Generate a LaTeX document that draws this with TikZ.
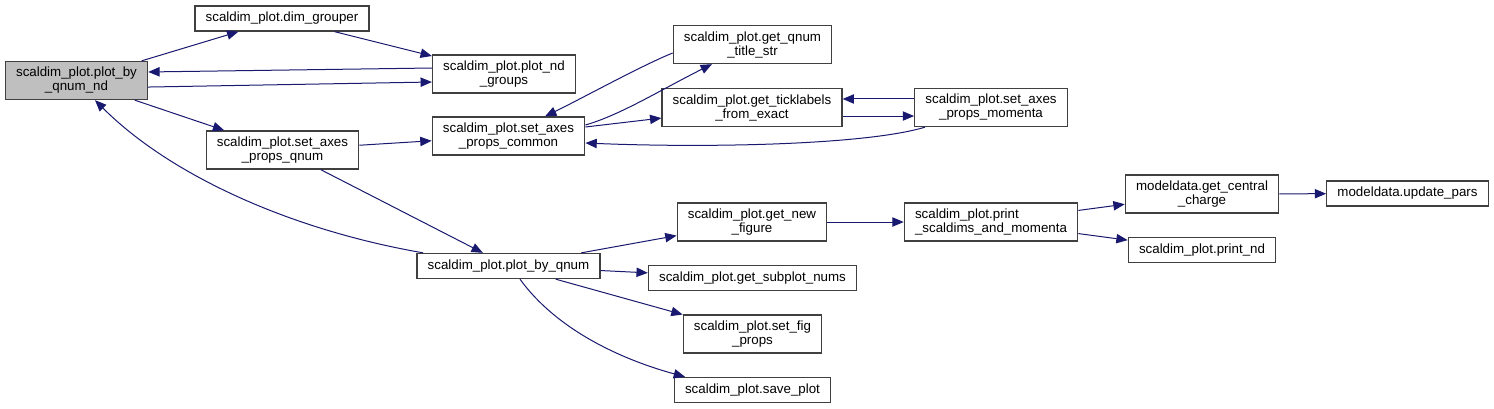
\documentclass[tikz,border=0pt]{standalone}
\usepackage{fontspec}
\setmainfont{Liberation Sans}
\usepackage{tikz}
\usetikzlibrary{arrows.meta,positioning,calc}
\usepackage{xcolor}
\definecolor{EdgeBlue}{HTML}{191970}
\definecolor{BoxLine}{HTML}{404040}
\definecolor{RootGray}{HTML}{BFBFBF}
\tikzset{
  fnbox/.style={draw=BoxLine, line width=1pt, minimum height=18.75pt,
    inner xsep=8pt, inner ysep=2pt, align=center,
    font=\fontsize{10}{10.5}\selectfont, fill=#1},
  fnbox/.default={white},
  fnbox2/.style={fnbox=#1, minimum height=28.5pt},
  fnbox2/.default={white},
  callarr/.style={-{Triangle[length=8.5pt,width=7pt]}, line width=0.75pt, color=EdgeBlue},
}

\begin{document}
\begin{tikzpicture}[x=0.75pt, y=-0.75pt]
  \path[use as bounding box, fill=white] (0,0) rectangle (1494,408);

  % first column
  \node[fnbox2=RootGray] (bynd) at (76.5,80.5) {scaldim\_plot.plot\_by\\\_qnum\_nd};

  % second column
  \node[fnbox] (grouper) at (282,18.5) {scaldim\_plot.dim\_grouper};
  \node[fnbox2] (axqnum) at (282.5,150) {scaldim\_plot.set\_axes\\\_props\_qnum};

  % third column
  \node[fnbox2] (ndgroups) at (504,74) {scaldim\_plot.plot\_nd\\\_groups};
  \node[fnbox2] (common) at (508.5,136) {scaldim\_plot.set\_axes\\\_props\_common};
  \node[fnbox] (byqnum) at (508.5,266) {scaldim\_plot.plot\_by\_qnum};

  % fourth column
  \node[fnbox2] (titlestr) at (752.5,44.5) {scaldim\_plot.get\_qnum\\\_title\_str};
  \node[fnbox2] (ticklab) at (752,107.5) {scaldim\_plot.get\_ticklabels\\\_from\_exact};
  \node[fnbox2] (newfig) at (752,222) {scaldim\_plot.get\_new\\\_figure};
  \node[fnbox] (subplot) at (752.5,278) {scaldim\_plot.get\_subplot\_nums};
  \node[fnbox2] (figprops) at (752.5,334) {scaldim\_plot.set\_fig\\\_props};
  \node[fnbox] (save) at (752.5,390) {scaldim\_plot.save\_plot};

  % fifth column
  \node[fnbox2] (momenta) at (991,107.5) {scaldim\_plot.set\_axes\\\_props\_momenta};
  \node[fnbox2, align=left] (printsd) at (991,222) {scaldim\_plot.print\\\_scaldims\_and\_momenta};

  % sixth and seventh column
  \node[fnbox2] (central) at (1202,194) {modeldata.get\_central\\\_charge};
  \node[fnbox] (printnd) at (1202,250) {scaldim\_plot.print\_nd};
  \node[fnbox] (updpars) at (1407.5,193.5) {modeldata.update\_pars};

  % calls
  \draw[callarr] (bynd) -- (grouper);
  \draw[callarr] (grouper) -- (ndgroups);
  \draw[callarr] ([yshift=4.5pt]ndgroups.west) -- ([yshift=6.4pt]bynd.east);
  \draw[callarr] ([yshift=-4.9pt]bynd.east) -- ([yshift=-6pt]ndgroups.west);
  \draw[callarr] (bynd) -- (axqnum);
  \draw[callarr] ([xshift=-64pt]byqnum.north) .. controls +(-133,-23) and +(75,75) .. ([xshift=13.9pt]bynd.south);
  \draw[callarr] (axqnum) -- (common);
  \draw[callarr] (axqnum) -- (byqnum);
  \draw[callarr] ([yshift=8.25pt]common.east) .. controls +(35,-10) and +(-50,25) .. ([xshift=-30.4pt]titlestr.south);
  \draw[callarr] ([yshift=-6.4pt]titlestr.west) .. controls +(-30,12) and +(35,-17) .. ([xshift=27.4pt]common.north);
  \draw[callarr] (common) -- (ticklab);
  \draw[callarr] ([yshift=-6.4pt]ticklab.east) -- ([yshift=-6.4pt]momenta.west);
  \draw[callarr] ([yshift=6.4pt]momenta.west) -- ([yshift=6.4pt]ticklab.east);
  \draw[callarr] ([xshift=-49.5pt]momenta.south) .. controls +(-60,18) and +(120,5) .. ([yshift=-5.25pt]common.east);
  \draw[callarr] (byqnum) -- (newfig);
  \draw[callarr] (byqnum) -- (subplot);
  \draw[callarr] (byqnum) -- (figprops);
  \draw[callarr] ([xshift=8.6pt]byqnum.south) .. controls +(40,55) and +(-55,-15) .. ([xshift=-50.6pt]save.north);
  \draw[callarr] (newfig) -- (printsd);
  \draw[callarr] (printsd) -- (central);
  \draw[callarr] (printsd) -- (printnd);
  \draw[callarr] (central) -- (updpars);
\end{tikzpicture}
\end{document}
